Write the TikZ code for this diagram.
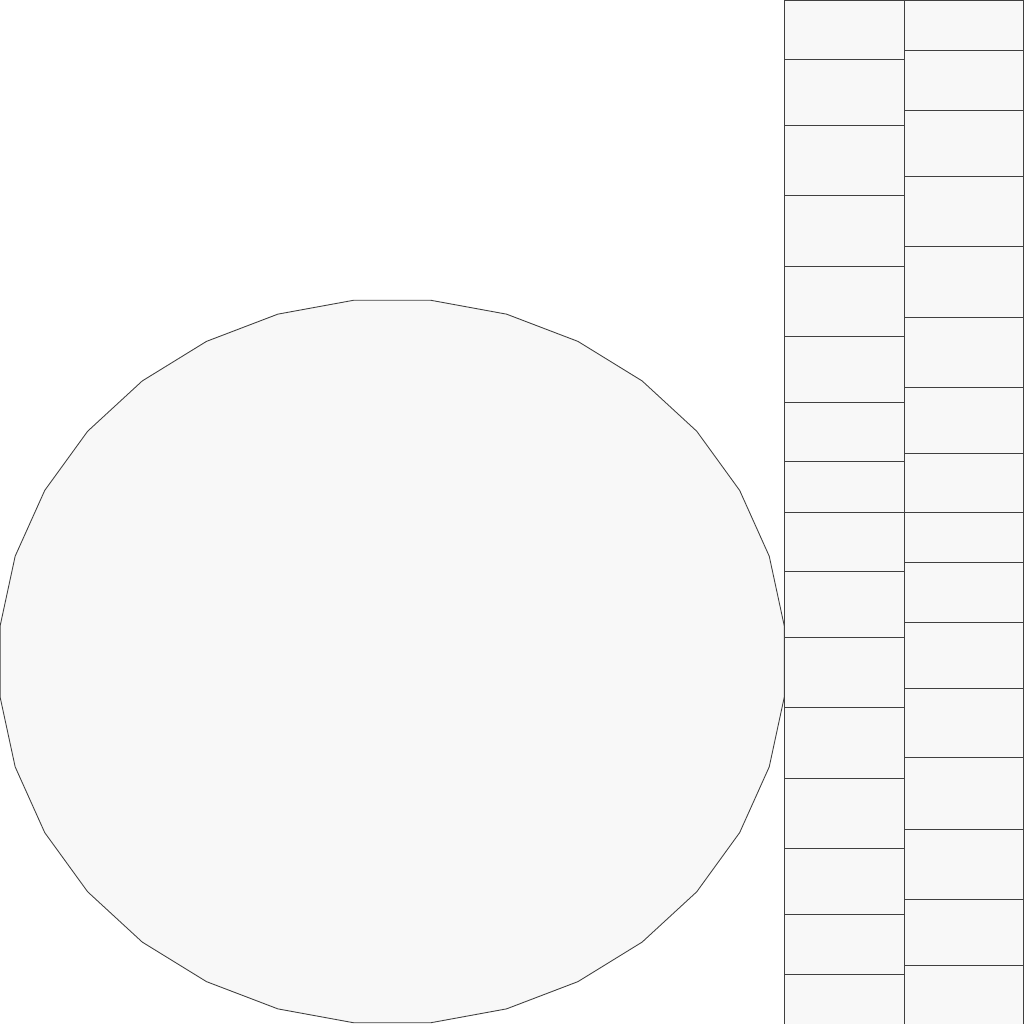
\documentclass[tikz,border=0pt]{standalone}
\usepackage{xcolor}
\usepackage{tikz}

\definecolor{cellfill}{HTML}{F8F8F8}
\definecolor{celledge}{HTML}{404040}

\begin{document}
\begin{tikzpicture}[
  x=0.2mm, y=-0.2mm,
  cell/.style={draw=celledge, fill=cellfill, line width=0.5pt},
  disc/.style={draw=celledge, fill=cellfill, line width=0.5pt, line join=miter}
]
\useasboundingbox (0,0) rectangle (1024,1024);
% 32-sided disc
\draw[disc] ({392.2+394*cos(5.625)},{661.5+363*sin(5.625)})
  \foreach \k in {1,...,31} {
    -- ({392.2+394*cos(5.625+11.25*\k)},{661.5+363*sin(5.625+11.25*\k)})
  } -- cycle;
% left column of cells
\foreach \a/\b in {0/59.7, 59.7/125.7, 125.7/195.3, 195.3/266.7, 266.7/336.7,
    336.7/402.7, 402.7/461.7, 461.7/512.3, 512.3/571.3, 571.3/637.3,
    637.3/707.3, 707.3/778.7, 778.7/848.7, 848.7/914.7, 914.7/974, 974/1024}
  \draw[cell] (784.3,\a) rectangle (904,\b);
% right column of cells
\foreach \a/\b in {0/50.7, 50.7/110, 110/176, 176/246, 246/317.3,
    317.3/387, 387/453, 453/512.3, 512.3/562.3, 562.3/622.3,
    622.3/688, 688/757.7, 757.7/829.3, 829.3/899.3, 899.3/965, 965/1024}
  \draw[cell] (904,\a) rectangle (1023.4,\b);
\end{tikzpicture}
\end{document}
